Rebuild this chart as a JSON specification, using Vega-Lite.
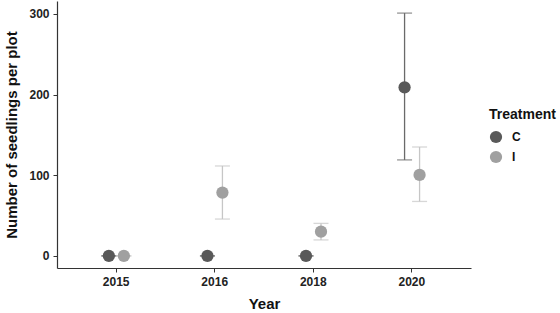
{
  "$schema": "https://vega.github.io/schema/vega-lite/v6.json",
  "autosize": "none",
  "padding": {"left": 57, "top": 1, "right": 89, "bottom": 45},
  "width": 414,
  "height": 267,
  "background": "white",
  "config": {
    "view": {"stroke": null},
    "font": "Liberation Sans"
  },
  "data": {
    "values": [
      {"Year": "2015", "Treatment": "C", "mean": 0, "lo": 0, "hi": 0},
      {"Year": "2015", "Treatment": "I", "mean": 0, "lo": 0, "hi": 0},
      {"Year": "2016", "Treatment": "C", "mean": 0, "lo": 0, "hi": 0},
      {"Year": "2016", "Treatment": "I", "mean": 78.5, "lo": 45.7, "hi": 111.5},
      {"Year": "2018", "Treatment": "C", "mean": 0, "lo": 0, "hi": 0},
      {"Year": "2018", "Treatment": "I", "mean": 30, "lo": 19.8, "hi": 40.3},
      {"Year": "2020", "Treatment": "C", "mean": 209, "lo": 119, "hi": 301},
      {"Year": "2020", "Treatment": "I", "mean": 100.4, "lo": 67.5, "hi": 135}
    ]
  },
  "encoding": {
    "x": {
      "field": "Year",
      "type": "ordinal",
      "scale": {"type": "band", "paddingInner": 0, "paddingOuter": 0.1},
      "axis": {
        "title": "Year", "labelAngle": 0, "labelPadding": 4, "titlePadding": 9, "bandPosition": 0.5,
        "domainColor": "#333333", "domainWidth": 1.2, "tickColor": "#333333", "tickSize": 4, "grid": false,
        "labelFont": "Liberation Sans", "labelFontWeight": "bold", "labelFontSize": 12, "labelColor": "#222222",
        "titleFont": "Liberation Sans", "titleFontWeight": "bold", "titleFontSize": 15, "titleColor": "#111111"
      }
    },
    "xOffset": {
      "field": "Treatment",
      "type": "nominal",
      "scale": {"type": "point", "range": [42, 57], "padding": 0}
    }
  },
  "layer": [
    {
      "mark": {"type": "rule", "strokeWidth": 1.3},
      "encoding": {
        "y": {"field": "lo", "type": "quantitative"},
        "y2": {"field": "hi"},
        "color": {"condition": {"test": "datum.Treatment === 'C'", "value": "#6a6a6a"}, "value": "#c6c6c6"}
      }
    },
    {
      "mark": {"type": "tick", "orient": "horizontal", "size": 15, "thickness": 1.3},
      "encoding": {
        "y": {"field": "lo", "type": "quantitative"},
        "color": {"condition": {"test": "datum.Treatment === 'C'", "value": "#6a6a6a"}, "value": "#c6c6c6"}
      }
    },
    {
      "mark": {"type": "tick", "orient": "horizontal", "size": 15, "thickness": 1.3},
      "encoding": {
        "y": {"field": "hi", "type": "quantitative"},
        "color": {"condition": {"test": "datum.Treatment === 'C'", "value": "#6a6a6a"}, "value": "#c6c6c6"}
      }
    },
    {
      "mark": {"type": "point", "filled": true, "opacity": 1, "size": 150},
      "encoding": {
        "y": {
          "field": "mean",
          "type": "quantitative",
          "scale": {"domain": [-15, 316], "nice": false, "zero": false},
          "axis": {
            "title": "Number of seedlings per plot", "values": [0, 100, 200, 300], "labelPadding": 4, "titlePadding": 9,
            "domainColor": "#333333", "domainWidth": 1.2, "tickColor": "#333333", "tickSize": 4, "grid": false,
            "labelFont": "Liberation Sans", "labelFontWeight": "bold", "labelFontSize": 12, "labelColor": "#222222",
            "titleFont": "Liberation Sans", "titleFontWeight": "bold", "titleFontSize": 15, "titleColor": "#111111"
          }
        },
        "color": {
          "field": "Treatment",
          "type": "nominal",
          "scale": {"domain": ["C", "I"], "range": ["#595959", "#a0a0a0"]},
          "legend": {
            "title": "Treatment",
            "orient": "none",
            "legendX": 432,
            "legendY": 107,
            "titleFont": "Liberation Sans",
            "titleFontSize": 14,
            "titleFontWeight": "bold",
            "titleColor": "#111111",
            "labelFont": "Liberation Sans",
            "labelFontSize": 12,
            "labelFontWeight": "bold",
            "labelColor": "#111111",
            "labelOffset": 9,
            "symbolType": "circle",
            "symbolSize": 150,
            "symbolOpacity": 1,
            "rowPadding": 6,
            "titlePadding": 8
          }
        }
      }
    }
  ]
}
